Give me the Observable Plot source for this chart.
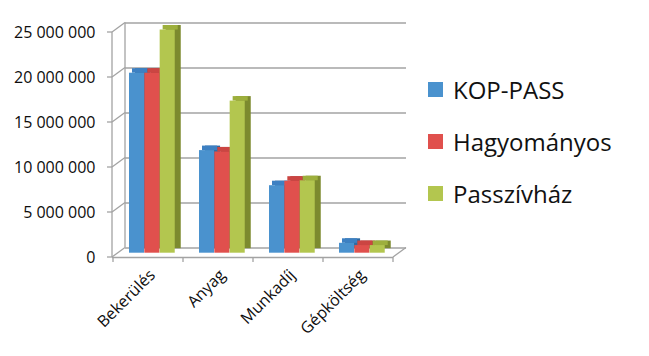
<!DOCTYPE html>
<html>
<head>
<meta charset="utf-8">
<script src="https://cdn.jsdelivr.net/npm/d3@7"></script>
<script src="https://cdn.jsdelivr.net/npm/@observablehq/plot@0.6"></script>
<style>
  body { margin: 0; background: #fff; font-family: "Open Sans", sans-serif; }
  #wrap { position: relative; width: 649px; height: 356px; overflow: hidden; }
  #legend { position: absolute; left: 0; top: 0; }
  .item { position: absolute; left: 428px; height: 30px; display: flex; align-items: center; white-space: nowrap; }
  .sw { width: 15px; height: 15px; margin-right: 10px; }
  .lab { font-size: 24px; line-height: 30px; color: #111; }
</style>
</head>
<body>
<div id="wrap"><div id="legend"></div></div>
<script>
// ---- data ----
const categories = ["Bekerülés", "Anyag", "Munkadíj", "Gépköltség"];
const seriesNames = ["KOP-PASS", "Hagyományos", "Passzívház"];
const kopPass     = [20000000, 11400000, 7500000, 1100000];
const hagyomanyos = [20000000, 11250000, 8000000, 850000];
const passzivhaz  = [24800000, 16900000, 8050000, 850000];
const yTicks = [0, 5000000, 10000000, 15000000, 20000000, 25000000];

// ---- styling ----
const frontColors = ["#4A92CE", "#E0504D", "#B3C64F"];
const topColors   = ["#3D80C2", "#CB4542", "#9DAF3C"];
const sideColors  = ["#2E6BA3", "#A33A37", "#7C8A2E"];
const gridColor = "#a3a3a3";

const W = 649, H = 356;
const mL = 112, mR = 256, mT = 32, mB = 99;
const DX = 13, DY = -9.5;          // back wall offset
const BDY = -4.3;                  // bar front face offset
const SDX = 6, SDY = -4.5;         // bar depth
const step = (W - mL - mR) / categories.length;
const groupStart = 16, barW = 15.33;

const seriesValues = [kopPass, hagyomanyos, passzivhaz];
const rows = categories.map((c, i) => ({cat: c, v: seriesValues.map(s => s[i])}));
const fmt = v => d3.format(",")(v).replace(/,/g, " ");

const marks = [
  Plot.ruleY(yTicks, {dx: DX, dy: DY, stroke: gridColor, strokeWidth: 1.3}),
  Plot.ruleY([0], {stroke: gridColor, strokeWidth: 1.3})
];
seriesValues.forEach((s, j) => {
  const L = groupStart + j * barW;
  const R = step - L - barW;
  marks.push(Plot.barY(rows, {x: "cat", y: d => d.v[j], insetLeft: L, insetRight: R,
    dx: SDX, dy: BDY + SDY, fill: sideColors[j]}));
});
seriesValues.forEach((s, j) => {
  const L = groupStart + j * barW;
  const R = step - L - barW;
  marks.push(Plot.barY(rows, {x: "cat", y1: d => d.v[j], y2: d => d.v[j],
    insetLeft: L + SDX / 2, insetRight: R - SDX / 2, insetTop: SDY, insetBottom: 0,
    dy: BDY, fill: topColors[j]}));
  marks.push(Plot.barY(rows, {x: "cat", y: d => d.v[j], insetLeft: L, insetRight: R,
    dy: BDY, fill: frontColors[j]}));
});
marks.push(Plot.axisY(yTicks, {tickSize: 0, tickPadding: 17, tickFormat: fmt, fontSize: 16, label: null}));
marks.push(Plot.axisX({tickSize: 0, tickPadding: 15, tickRotate: -45, dx: 4, fontSize: 16, label: null}));

const svg = Plot.plot({
  width: W, height: H,
  marginLeft: mL, marginRight: mR, marginTop: mT, marginBottom: mB,
  style: {fontFamily: "Open Sans, sans-serif", fontSize: "16px", color: "#0d0d0d", background: "transparent", overflow: "visible"},
  x: {domain: categories, padding: 0},
  y: {domain: [0, 25000000]},
  marks
});

// 3D wall decoration drawn from the plot's scales
const xs = svg.scale("x"), ys = svg.scale("y");
const x0 = xs.range[0], x1 = xs.range[1];
const g = d3.select(svg).insert("g", "g")
  .attr("stroke", gridColor).attr("stroke-width", 1.3).attr("fill", "none");
const line = (a, b, c, d) => g.append("line").attr("x1", a).attr("y1", b).attr("x2", c).attr("y2", d);
yTicks.forEach(v => {
  const yy = ys.apply(v);
  line(x0 - 5, yy, x0, yy);
  line(x0, yy, x0 + DX, yy + DY);
});
line(x0, ys.apply(0), x0, ys.apply(25000000));
line(x0 + DX, ys.apply(0) + DY, x0 + DX, ys.apply(25000000) + DY);
line(x1, ys.apply(0), x1 + DX, ys.apply(0) + DY);
categories.map(c => xs.apply(c)).concat([x1]).forEach(xx => line(xx, ys.apply(0), xx, ys.apply(0) + 5));

const wrap = document.getElementById("wrap");
wrap.insertBefore(svg, wrap.firstChild);

// legend
const leg = document.getElementById("legend");
const tops = [74.7, 126.7, 178.7];
seriesNames.forEach((n, j) => {
  const it = document.createElement("div");
  it.className = "item";
  it.style.top = tops[j] + "px";
  it.innerHTML = `<div class="sw" style="background:${frontColors[j]}"></div><div class="lab">${n}</div>`;
  leg.appendChild(it);
});
</script>
</body>
</html>
